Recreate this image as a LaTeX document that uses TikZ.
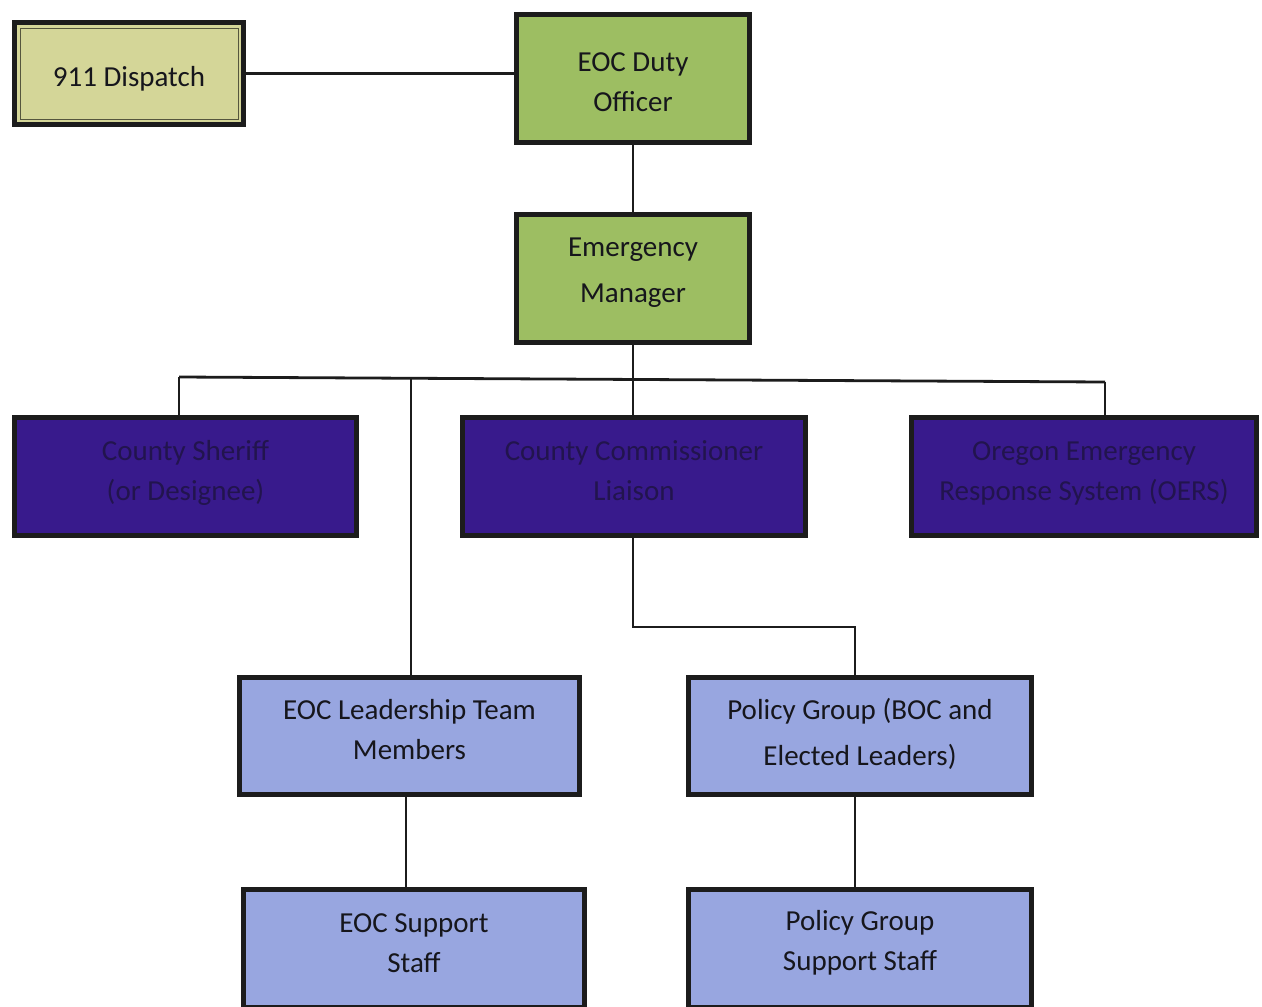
\documentclass[tikz,border=0pt]{standalone}
\usepackage{fontspec}
\setmainfont{Carlito}
\definecolor{dispfill}{RGB}{212,214,152}
\definecolor{greenfill}{RGB}{157,190,98}
\definecolor{purplefill}{RGB}{56,26,140}
\definecolor{lavfill}{RGB}{152,166,224}
\definecolor{boxline}{RGB}{28,28,28}
\definecolor{purpletext}{RGB}{34,20,78}
\definecolor{darktext}{RGB}{22,22,28}
\newcommand\boxlines[2]{\raisebox{#1}[\dimexpr\height-(#1)\relax][\dimexpr\depth+(#1)\relax]{\begin{tabular}{@{}c@{}}#2\end{tabular}}}
\begin{document}
\begin{tikzpicture}[x=1pt,y=-1pt,
  box/.style={draw=boxline, line width=5pt, rectangle, align=center, inner sep=0pt, outer sep=0pt,
    font=\fontsize{29}{40}\selectfont, text=darktext},
  dispbox/.style={box, fill=dispfill},
  greenbox/.style={box, fill=greenfill},
  purplebox/.style={box, fill=purplefill, text=purpletext},
  lavbox/.style={box, fill=lavfill},
  conn/.style={draw=boxline, line width=2.8pt}]
\useasboundingbox (0,0) rectangle (1262,1007);
\fill[white] (0,0) rectangle (1262,1007);

\node[dispbox, minimum width=229pt, minimum height=102pt] (disp) at (129,73.5) {\boxlines{-2.5pt}{911 Dispatch}};
\draw[draw=black!60!dispfill, line width=0.8pt] (20,28) rectangle (238,119);
\node[greenbox, minimum width=233pt, minimum height=128pt] (duty) at (633,78.5) {\boxlines{-2.5pt}{EOC Duty\\Officer}};
\node[greenbox, minimum width=233pt, minimum height=128pt, font=\fontsize{29}{46}\selectfont] (em) at (633,278.5) {\boxlines{4pt}{Emergency\\Manager}};

\node[purplebox, minimum width=342pt, minimum height=118pt] (sheriff) at (185.5,476.5) {\boxlines{2pt}{County Sheriff\\(or Designee)}};
\node[purplebox, minimum width=343pt, minimum height=118pt] (comm) at (634,476.5) {\boxlines{2pt}{County Commissioner\\Liaison}};
\node[purplebox, minimum width=345pt, minimum height=118pt] (oers) at (1084,476.5) {\boxlines{2pt}{Oregon Emergency\\Response System (OERS)}};

\node[lavbox, minimum width=340pt, minimum height=117pt] (lead) at (409.5,736) {\boxlines{2.5pt}{EOC Leadership Team\\Members}};
\node[lavbox, minimum width=343pt, minimum height=117pt, font=\fontsize{29}{46}\selectfont] (policy) at (860,736) {\boxlines{1.5pt}{Policy Group (BOC and\\Elected Leaders)}};
\node[lavbox, minimum width=341pt, minimum height=118pt] (esup) at (414,948.5) {\boxlines{2pt}{EOC Support\\Staff}};
\node[lavbox, minimum width=343pt, minimum height=118pt] (psup) at (860,948.5) {\boxlines{3pt}{Policy Group\\Support Staff}};

% connectors
\draw[conn] (disp.east) -- (duty.west |- disp.east);
\draw[conn] (duty.south) -- (em.north);
\coordinate (busL) at (179,377);
\coordinate (busR) at (1105,382);
\coordinate (busM) at (633,379);
\draw[conn] (em.south) -- (busM);
\draw[conn] (busL) -- (busR);
\draw[conn] (busL) -- (busL |- sheriff.north);
\draw[conn] (busM) -- (busM |- comm.north);
\draw[conn] (busR) -- (busR |- oers.north);
\coordinate (leadTop) at (411,378);
\draw[conn] (leadTop) -- (leadTop |- lead.north);
\coordinate (pJoin) at (855,627);
\draw[conn] (comm.south -| busM) |- (pJoin) -- (pJoin |- policy.north);
\draw[conn] (lead.south -| 406,0) -- (esup.north -| 406,0);
\draw[conn] (policy.south -| 855,0) -- (psup.north -| 855,0);
\end{tikzpicture}
\end{document}
